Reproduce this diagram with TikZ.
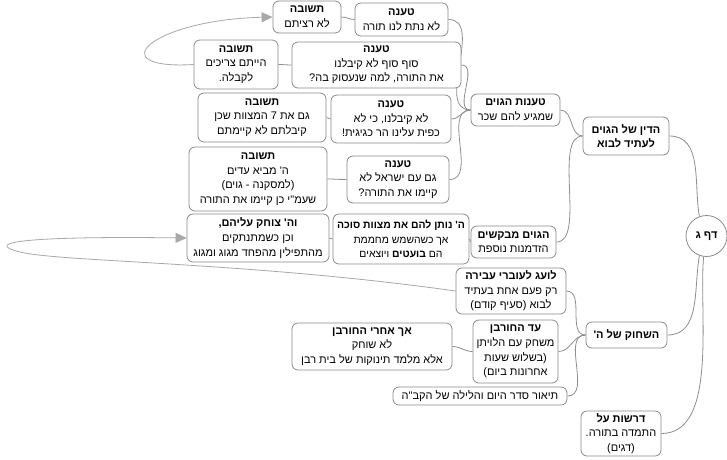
\documentclass[tikz,border=0pt]{standalone}
\usepackage{fontspec}
\setmainfont{Liberation Sans}
\newfontfamily\heb[Script=Hebrew,Ligatures=TeXOff]{Liberation Sans}
\TeXXeTstate=1
\usetikzlibrary{arrows.meta}
\pgfdeclarelayer{background}
\pgfsetlayers{background,main}
\definecolor{boxline}{HTML}{8A8A8A}
\definecolor{edgeline}{HTML}{8E8E8E}
\definecolor{arrowgray}{HTML}{A8A8A8}
\newcommand\rl[1]{\beginR #1\endR}
\begin{document}
\begin{tikzpicture}[x=1pt,y=-1pt,
  box/.style={draw=boxline, line width=0.8pt, rounded corners=6pt, fill=white, align=center,
    inner sep=1pt, font=\fontsize{11}{14.6}\selectfont\heb},
  link/.style={draw=edgeline, line width=0.8pt},
  jump/.style={draw=arrowgray, line width=0.8pt, -{Triangle[length=11pt,width=10pt]}, fill=none}
]
\useasboundingbox (0,0) rectangle (727,459);

\node[box, minimum width=68, minimum height=32] (b1) at (307,17) {\textbf{\rl{תשובה}}\\\rl{לא רציתם}};
\node[box, minimum width=93, minimum height=33] (b2) at (401.5,19.5) {\textbf{\rl{טענה}}\\\rl{לא נתת לנו תורה}};
\node[box, minimum width=84, minimum height=49] (b3) at (236,64.5) {\textbf{\rl{תשובה}}\\\rl{הייתם צריכים}\\\rl{לקבלה.}};
\node[box, minimum width=169, minimum height=46] (b4) at (376.5,65) {\textbf{\rl{טענה}}\\\rl{סוף סוף לא קיבלנו}\\\rl{את התורה, למה שנעסוק בה?}};
\node[box, minimum width=89, minimum height=32] (b5) at (515.5,110) {\textbf{\rl{טענות הגוים}}\\\rl{שמגיע להם שכר}};
\node[box, minimum width=128, minimum height=49] (b6) at (262,117.5) {\textbf{\rl{תשובה}}\\\rl{גם את 7 המצוות שכן}\\\rl{קיבלתם לא קיימתם}};
\node[box, minimum width=120, minimum height=48] (b7) at (391,119) {\textbf{\rl{טענה}}\\\rl{לא קיבלנו, כי לא}\\\rl{כפית עלינו הר כגיגית!}};
\node[box, minimum width=86, minimum height=38] (b8) at (626,136) {\textbf{\rl{הדין של הגוים}}\\\textbf{\rl{לעתיד לבוא}}};
\node[box, minimum width=138, minimum height=64] (b9) at (258,179) {\textbf{\rl{תשובה}}\\\rl{ה' מביא עדים}\\\rl{(למסקנה - גוים)}\\\rl{שעמ"י כן קיימו את התורה}};
\node[box, minimum width=102, minimum height=47] (b10) at (398,179.5) {\textbf{\rl{טענה}}\\\rl{גם עם ישראל לא}\\\rl{קיימו את התורה?}};
\node[box, minimum width=142, minimum height=48] (b11) at (258,238) {\textbf{\rl{וה' צוחק עליהם,}}\\\rl{וכן כשמתנתקים}\\\rl{מהתפילין מהפחד מגוג ומגוג}};
\node[box, minimum width=136, minimum height=50, font=\fontsize{10.4}{14.6}\selectfont\heb] (b12) at (401,239) {\textbf{\rl{ה' נותן להם את מצוות סוכה}}\\\rl{אך כשהשמש מחממת}\\\rl{הם \textbf{בועטים} ויוצאים}};
\node[box, minimum width=85, minimum height=32] (b13) at (513.5,242) {\textbf{\rl{הגוים מבקשים}}\\\rl{הזדמנות נוספת}};
\node[box, circle, rounded corners=0pt, minimum size=41, inner sep=0pt] (root) at (706.5,236) {\textbf{\rl{דף ג}}};
\node[box, minimum width=110, minimum height=46] (b15) at (511,291) {\textbf{\rl{לועג לעוברי עבירה}}\\\rl{רק פעם אחת בעתיד}\\\rl{לבוא (סעיף קודם)}};
\node[box, minimum width=81, minimum height=26] (b16) at (626.5,335) {\textbf{\rl{השחוק של ה'}}};
\node[box, minimum width=85, minimum height=63] (b17) at (515.5,351.5) {\textbf{\rl{עד החורבן}}\\\rl{משחק עם הלויתן}\\\rl{(בשלוש שעות}\\\rl{אחרונות ביום)}};
\node[box, minimum width=160, minimum height=47] (b18) at (372,346.5) {\textbf{\rl{אך אחרי החורבן}}\\\rl{לא שוחק}\\\rl{אלא מלמד תינוקות של בית רבן}};
\node[box, minimum width=174, minimum height=18] (b19) at (480,396) {\rl{תיאור סדר היום והלילה של הקב"ה}};
\node[box, minimum width=80, minimum height=45] (b20) at (621,433.5) {\textbf{\rl{דרשות על}}\\\rl{התמדה בתורה.}\\\rl{(דגים)}};

\begin{pgfonlayer}{background}
% mind-map connectors
\draw[link] (root.110) to[out=100,in=0] (b8.east);
\draw[link] (root.250) to[out=260,in=0] (b16.east);
\draw[link] (root.262) to[out=265,in=0,looseness=0.8] (b20.east);

\draw[link] (b8.west) to[out=180,in=0] (b5.east);
\draw[link] (b8.west) to[out=180,in=0,looseness=0.7] (b13.east);

\draw[link] (b5.west) to[out=180,in=0] (b2.east);
\draw[link] (b5.west) to[out=180,in=0] (b4.east);
\draw[link] (b5.west) to[out=180,in=0] (b7.east);
\draw[link] (b5.west) to[out=180,in=0] (b10.east);

\draw[link] (b2.west) to[out=180,in=0] (b1.east);
\draw[link] (b4.west) to[out=180,in=0] (b3.east);
\draw[link] (b7.west) to[out=180,in=0] (b6.east);
\draw[link] (b10.west) to[out=180,in=0] (b9.east);

\draw[link] (b13.west) to[out=180,in=0] (b12.east);
\draw[link] (b12.west) to[out=180,in=0] (b11.east);

\draw[link] (b16.west) to[out=180,in=0] (b15.east);
\draw[link] (b16.west) to[out=180,in=0] (b17.east);
\draw[link] (b16.west) to[out=180,in=0] (b19.east);
\draw[link] (b17.west) to[out=180,in=0] (b18.east);

% cross-reference arrows
\draw[jump] (b3.west) .. controls (100,70) and (150,20) .. (b1.west);
\draw[jump] (b15.west) .. controls (250,262) and (60,262) .. (20,252) .. controls (-20,242) and (30,236) .. (b11.west);
\end{pgfonlayer}
\end{tikzpicture}
\end{document}
